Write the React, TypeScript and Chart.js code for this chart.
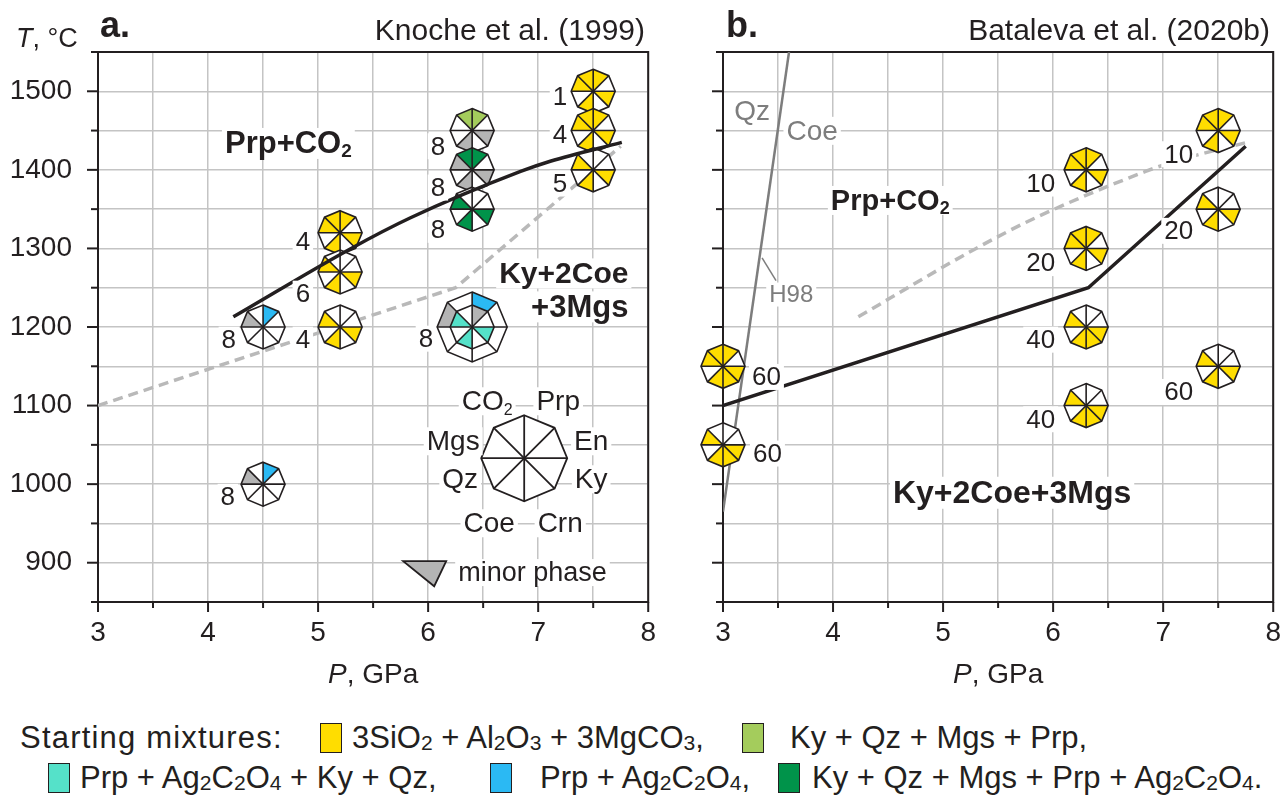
import React, { useEffect, useRef } from 'react';
import { Chart, registerables } from 'chart.js';

Chart.register(...registerables);

const FONT = '"Liberation Sans", Arial, Helvetica, sans-serif';
const INK = '#231f20';
const GRID = '#c4c4c4';
const YELLOW = '#FFDD00';
const LGREEN = '#A4CC5C';
const TEAL = '#55E1C9';
const BLUE = '#2BB9F3';
const DGREEN = '#00934A';
const MINOR = '#B4B4B4';

// ---------- axes ----------
const P_MIN = 3;
const P_MAX = 8;
const T_MIN = 850;
const T_MAX = 1550;
const P_LABELS = [3, 4, 5, 6, 7, 8];
const T_LABELS = [900, 1000, 1100, 1200, 1300, 1400, 1500];

// ---------- panel a : Knoche et al. (1999) ----------
const aSolidP = [4.23, 5.3, 5.84, 6.84, 7.11, 7.76];
const aSolidT = [1213, 1300, 1339, 1398, 1411, 1435];
const aDashP = [3.0, 6.25, 7.75];
const aDashT = [1100, 1250, 1430];

// sectors clockwise from 12 o'clock: Prp, En, Ky, Crn, Coe, Qz, Mgs, CO2
// y yellow, l light green, t turquoise, b blue, g dark green, m minor phase, - absent
const aExpP = [7.5, 7.5, 7.5, 6.4, 6.4, 6.4, 5.2, 5.2, 5.2, 4.5, 4.5, 6.4];
const aExpT = [1500, 1450, 1400, 1450, 1400, 1350, 1320, 1270, 1200, 1200, 1000, 1200];
const aExpHours = ['1', '4', '5', '8', '8', '8', '4', '6', '4', '8', '8', '8'];
const aExpPhases = ['y-y-y-yy', 'y-y-y-yy', '--y-y-y-', 'l-m-m--l', 'g-m-m-mg', '--g-g-g-', 'y-y-y-yy', '--y-y-y-', '--y-y-y-', 'b-----m-', 'b-----m-', 'b-----m-'];
const aExpInner = ['', '', '', '', '', '', '', '', '', '', '', 'm-t-t-t-'];

// ---------- panel b : Bataleva et al. (2020b) ----------
const bSolidP = [3.0, 6.32, 7.75];
const bSolidT = [1100, 1250, 1430];
const bDashP = [4.23, 5.3, 5.84, 6.84, 7.11, 7.76];
const bDashT = [1213, 1300, 1339, 1398, 1411, 1435];
const qzCoeP = [3.0, 3.6];
const qzCoeT = [965, 1550];
const bExpP = [7.5, 6.3, 7.5, 6.3, 6.3, 6.3, 7.5, 3.0, 3.0];
const bExpT = [1450, 1400, 1350, 1300, 1200, 1100, 1150, 1150, 1050];
const bExpHours = ['10', '10', '20', '20', '40', '40', '60', '60', '60'];
const bExpPhases = ['y-y-y-yy', 'y-y-y-yy', '--y-y-y-', 'y-y-y-yy', '--yyy-y-', '--yyy-y-', '--y-y-y-', 'y-yyy-yy', '--yyy-y-'];
const bExpInner = ['', '', '', '', '', '', '', '', ''];

// ---------- label layout (px offsets of run-duration labels from glyph centre) ----------
const aLabelDx = [-26, -26, -26, -27, -27, -27, -30, -30, -30, -27, -28, -39];
const aLabelDy = [14, 12, 22, 24, 26, 29, 17, 30, 21, 21, 21, 20];
const bLabelDx = [-25, -31, -25, -31, -31, -31, -25, 29, 30];
const bLabelDy = [32, 22, 30, 23, 21, 22, 34, 19, 17];

// ---------- key ----------
const keyPhases = ['Prp', 'En', 'Ky', 'Crn', 'Coe', 'Qz', 'Mgs', 'CO2'];

// ---------- legend ----------
const legendTitle = 'Starting mixtures:';
const legendColors = [YELLOW, LGREEN, TEAL, BLUE, DGREEN];
const legendTexts = ['3SiO2 + Al2O3 + 3MgCO3,', 'Ky + Qz + Mgs + Prp,', 'Prp + Ag2C2O4 + Ky + Qz,', 'Prp + Ag2C2O4,', 'Ky + Qz + Mgs + Prp + Ag2C2O4.'];
const legendSwatchX = [320, 742, 48, 490, 778];
const legendTextX = [352, 790, 80, 540, 812];
const legendRow = [0, 0, 1, 1, 1];
const legendRowMid = [738, 778];

const SECTOR_FILL: Record<string, string> = { y: YELLOW, l: LGREEN, t: TEAL, b: BLUE, g: DGREEN, m: MINOR, '-': '#ffffff' };

type Part = { t: string; size: number; bold?: boolean; italic?: boolean; dy?: number; color?: string };

function fontOf(p: Part) {
  return `${p.italic ? 'italic ' : ''}${p.bold ? 'bold ' : ''}${p.size}px ${FONT}`;
}

function drawRich(ctx: CanvasRenderingContext2D, parts: Part[], x: number, y: number, align: 'left' | 'center' | 'right', bg: boolean, color = INK) {
  ctx.save();
  ctx.textBaseline = 'alphabetic';
  ctx.textAlign = 'left';
  let w = 0;
  const ws = parts.map((p) => {
    ctx.font = fontOf(p);
    const m = ctx.measureText(p.t).width;
    w += m;
    return m;
  });
  const x0 = align === 'left' ? x : align === 'center' ? x - w / 2 : x - w;
  const maxSize = Math.max(...parts.map((p) => p.size));
  if (bg) {
    ctx.fillStyle = '#ffffff';
    ctx.fillRect(x0 - 3, y - maxSize * 0.82, w + 6, maxSize * 1.0);
  }
  let cx = x0;
  parts.forEach((p, i) => {
    ctx.font = fontOf(p);
    ctx.fillStyle = p.color || color;
    ctx.fillText(p.t, cx, y + (p.dy || 0));
    cx += ws[i];
  });
  ctx.restore();
}

function octPt(cx: number, cy: number, r: number, k: number): [number, number] {
  const a = -Math.PI / 2 + (k * Math.PI) / 4;
  return [cx + r * Math.cos(a), cy + r * Math.sin(a)];
}

function fillSectors(ctx: CanvasRenderingContext2D, cx: number, cy: number, r: number, code: string) {
  for (let k = 0; k < 8; k++) {
    const [x0, y0] = octPt(cx, cy, r, k);
    const [x1, y1] = octPt(cx, cy, r, k + 1);
    ctx.beginPath();
    ctx.moveTo(cx, cy);
    ctx.lineTo(x0, y0);
    ctx.lineTo(x1, y1);
    ctx.closePath();
    ctx.fillStyle = SECTOR_FILL[code[k]] || '#ffffff';
    ctx.fill();
  }
}

function strokeOct(ctx: CanvasRenderingContext2D, cx: number, cy: number, r: number, spokes: boolean) {
  ctx.beginPath();
  for (let k = 0; k < 8; k++) {
    const [x, y] = octPt(cx, cy, r, k);
    if (k === 0) ctx.moveTo(x, y);
    else ctx.lineTo(x, y);
  }
  ctx.closePath();
  ctx.stroke();
  if (spokes) {
    for (let k = 0; k < 4; k++) {
      const [x0, y0] = octPt(cx, cy, r, k);
      const [x1, y1] = octPt(cx, cy, r, k + 4);
      ctx.beginPath();
      ctx.moveTo(x0, y0);
      ctx.lineTo(x1, y1);
      ctx.stroke();
    }
  }
}

function drawGlyph(ctx: CanvasRenderingContext2D, cx: number, cy: number, r: number, code: string, inner?: string, rInner?: number, lw = 1.6) {
  ctx.save();
  ctx.strokeStyle = INK;
  ctx.lineWidth = lw;
  ctx.lineJoin = 'miter';
  fillSectors(ctx, cx, cy, r, code);
  if (inner && rInner) fillSectors(ctx, cx, cy, rInner, inner);
  strokeOct(ctx, cx, cy, r, true);
  if (inner && rInner) strokeOct(ctx, cx, cy, rInner, false);
  ctx.restore();
}

function line(ctx: CanvasRenderingContext2D, x0: number, y0: number, x1: number, y1: number) {
  ctx.beginPath();
  ctx.moveTo(x0, y0);
  ctx.lineTo(x1, y1);
  ctx.stroke();
}

type Fn = (v: number) => number;

type PanelCfg = {
  yLabels: boolean;
  yAxisW: number;
  padR: number;
  expP: number[];
  expT: number[];
  hours: string[];
  phases: string[];
  inner: string[];
  labelDx: number[];
  labelDy: number[];
  datasets: any[];
  decorate: (ctx: CanvasRenderingContext2D, X: Fn, Y: Fn, chart: any) => void;
};

const GLYPH_R = 22;
const BIG_R = 35;

function buildConfig(cfg: PanelCfg): any {
  const plugin = {
    id: 'phaseGlyphs',
    beforeDatasetsDraw(chart: any) {
      const ctx: CanvasRenderingContext2D = chart.ctx;
      const ca = chart.chartArea;
      const xs = chart.scales.x;
      const ys = chart.scales.y;
      ctx.save();
      ctx.strokeStyle = INK;
      ctx.lineWidth = 2;
      ctx.strokeRect(ca.left, ca.top, ca.right - ca.left, ca.bottom - ca.top);
      ys.ticks.forEach((t: any) => {
        const yy = ys.getPixelForValue(t.value);
        const len = t.value % 100 === 0 ? 11 : 7;
        line(ctx, ca.left - len, yy, ca.left, yy);
      });
      xs.ticks.forEach((t: any) => {
        const xx = xs.getPixelForValue(t.value);
        const len = Number.isInteger(t.value) ? 10 : 6;
        line(ctx, xx, ca.bottom, xx, ca.bottom + len);
      });
      ctx.restore();
    },
    beforeDatasetDraw(chart: any, args: any) {
      if (args.index !== 0) return;
      const ctx: CanvasRenderingContext2D = chart.ctx;
      const xs = chart.scales.x;
      const ys = chart.scales.y;
      cfg.expP.forEach((p, i) => {
        const cx = xs.getPixelForValue(p);
        const cy = ys.getPixelForValue(cfg.expT[i]);
        const inner = cfg.inner[i];
        if (inner) drawGlyph(ctx, cx, cy, BIG_R, cfg.phases[i], inner, GLYPH_R);
        else drawGlyph(ctx, cx, cy, GLYPH_R, cfg.phases[i]);
      });
    },
    afterDatasetsDraw(chart: any) {
      const ctx: CanvasRenderingContext2D = chart.ctx;
      const xs = chart.scales.x;
      const ys = chart.scales.y;
      const X = (v: number) => xs.getPixelForValue(v);
      const Y = (v: number) => ys.getPixelForValue(v);
      cfg.expP.forEach((p, i) => {
        const cx = X(p);
        const cy = Y(cfg.expT[i]);
        const dx = cfg.labelDx[i];
        drawRich(ctx, [{ t: cfg.hours[i], size: 26 }], cx + dx, cy + cfg.labelDy[i], dx < 0 ? 'right' : 'left', true);
      });
      cfg.decorate(ctx, X, Y, chart);
    },
  };

  const tickFont = { family: FONT, size: 28 };
  return {
    type: 'line',
    data: { datasets: cfg.datasets },
    options: {
      animation: false,
      responsive: false,
      devicePixelRatio: 1,
      layout: { padding: { left: 0, right: cfg.padR, top: 52, bottom: 0 } },
      plugins: { legend: { display: false }, tooltip: { enabled: false } },
      elements: { point: { radius: 0 } },
      scales: {
        x: {
          type: 'linear',
          min: P_MIN,
          max: P_MAX,
          border: { display: false },
          grid: { color: GRID, lineWidth: 1.5, drawTicks: false },
          ticks: {
            stepSize: 0.5,
            autoSkip: false,
            maxRotation: 0,
            padding: 14,
            color: INK,
            font: tickFont,
            callback: (v: number) => (P_LABELS.includes(v) ? String(v) : ''),
          },
          afterFit: (s: any) => {
            s.height = 98;
          },
        },
        y: {
          type: 'linear',
          min: T_MIN,
          max: T_MAX,
          border: { display: false },
          grid: { color: GRID, lineWidth: 1.5, drawTicks: false },
          ticks: {
            stepSize: 50,
            autoSkip: false,
            padding: 26,
            color: INK,
            font: tickFont,
            callback: (v: number) => (cfg.yLabels && T_LABELS.includes(v) ? String(v) : ''),
          },
          afterFit: (s: any) => {
            s.width = cfg.yAxisW;
          },
        },
      },
    },
    plugins: [plugin],
  };
}

const pts = (P: number[], T: number[]) => P.map((p, i) => ({ x: p, y: T[i] }));

const solidStyle = { borderColor: INK, borderWidth: 3.5, pointRadius: 0, fill: false };
const dashStyle = { borderColor: '#b9b9b9', borderWidth: 3.5, borderDash: [10, 6], pointRadius: 0, fill: false };

const panelA: PanelCfg = {
  yLabels: true,
  yAxisW: 98,
  padR: 0,
  expP: aExpP,
  expT: aExpT,
  hours: aExpHours,
  phases: aExpPhases,
  inner: aExpInner,
  labelDx: aLabelDx,
  labelDy: aLabelDy,
  datasets: [
    { ...solidStyle, data: pts(aSolidP, aSolidT), cubicInterpolationMode: 'monotone' },
    { ...dashStyle, data: pts(aDashP, aDashT) },
  ],
  decorate(ctx, X, Y, chart) {
    const ca = chart.chartArea;
    drawRich(ctx, [{ t: 'T', size: 27, italic: true }, { t: ', °C', size: 27 }], 16, 47, 'left', false);
    drawRich(ctx, [{ t: 'a.', size: 36, bold: true }], 100, 37, 'left', false);
    drawRich(ctx, [{ t: 'Knoche et al. (1999)', size: 30 }], 645, 40, 'right', false);
    drawRich(ctx, [{ t: 'P', size: 28, italic: true }, { t: ', GPa', size: 28 }], (ca.left + ca.right) / 2, 683, 'center', false);
    // field labels
    drawRich(ctx, [{ t: 'Prp+CO', size: 31, bold: true }, { t: '2', size: 19, bold: true, dy: 4 }], X(4.73), Y(1435) + 11, 'center', true);
    drawRich(ctx, [{ t: 'Ky+2Coe', size: 30, bold: true }], X(7.82), Y(1270) + 11, 'right', true);
    drawRich(ctx, [{ t: '+3Mgs', size: 31, bold: true }], X(7.82), Y(1227) + 11, 'right', true);
    // key glyph
    const kx = X(6.873);
    const ky = Y(1033);
    drawGlyph(ctx, kx, ky, 43, '--------', undefined, undefined, 1.8);
    const keyPos: [number, number][] = [
      [34, -58], [67, -18], [67, 20], [36, 64], [-35, 64], [-64, 20], [-71, -18], [-37, -58],
    ];
    keyPhases.forEach((ph, k) => {
      const [dx, dy] = keyPos[k];
      const parts: Part[] = ph === 'CO2' ? [{ t: 'CO', size: 28 }, { t: '2', size: 16, dy: 5 }] : [{ t: ph, size: 28 }];
      drawRich(ctx, parts, kx + dx, ky + dy + 10, 'center', true);
    });
    // minor phase key
    ctx.save();
    ctx.fillStyle = MINOR;
    ctx.strokeStyle = INK;
    ctx.lineWidth = 1.8;
    ctx.beginPath();
    ctx.moveTo(kx - 121, ky + 103);
    ctx.lineTo(kx - 78, ky + 103);
    ctx.lineTo(kx - 90, ky + 128);
    ctx.closePath();
    ctx.fill();
    ctx.stroke();
    ctx.restore();
    drawRich(ctx, [{ t: 'minor phase', size: 27 }], kx - 66, ky + 123, 'left', true);
  },
};

const panelB: PanelCfg = {
  yLabels: false,
  yAxisW: 63,
  padR: 0,
  expP: bExpP,
  expT: bExpT,
  hours: bExpHours,
  phases: bExpPhases,
  inner: bExpInner,
  labelDx: bLabelDx,
  labelDy: bLabelDy,
  datasets: [
    { ...solidStyle, data: pts(bSolidP, bSolidT) },
    { ...dashStyle, data: pts(bDashP, bDashT), cubicInterpolationMode: 'monotone' },
    { borderColor: '#7d7d7d', borderWidth: 2.5, pointRadius: 0, fill: false, data: pts(qzCoeP, qzCoeT) },
  ],
  decorate(ctx, X, Y, chart) {
    const ca = chart.chartArea;
    drawRich(ctx, [{ t: 'b.', size: 36, bold: true }], 66, 37, 'left', false);
    drawRich(ctx, [{ t: 'Bataleva et al. (2020b)', size: 30 }], 610, 40, 'right', false);
    drawRich(ctx, [{ t: 'P', size: 28, italic: true }, { t: ', GPa', size: 28 }], (ca.left + ca.right) / 2, 683, 'center', false);
    drawRich(ctx, [{ t: 'Qz', size: 28, color: '#7d7d7d' }], X(3.264), Y(1476) + 10, 'center', false);
    drawRich(ctx, [{ t: 'Coe', size: 28, color: '#7d7d7d' }], X(3.81), Y(1451) + 10, 'center', true);
    ctx.save();
    ctx.strokeStyle = '#7d7d7d';
    ctx.lineWidth = 1.5;
    line(ctx, X(3.355), Y(1288), X(3.482), Y(1259));
    ctx.restore();
    drawRich(ctx, [{ t: 'H98', size: 24, color: '#7d7d7d' }], X(3.62), Y(1243) + 9, 'center', true);
    drawRich(ctx, [{ t: 'Prp+CO', size: 29, bold: true }, { t: '2', size: 18, bold: true, dy: 4 }], X(4.52), Y(1362) + 10, 'center', true);
    drawRich(ctx, [{ t: 'Ky+2Coe+3Mgs', size: 32, bold: true }], X(5.627), Y(990) + 11, 'center', true);
  },
};

function Panel({ cfg, left, width, height }: { cfg: PanelCfg; left: number; width: number; height: number }) {
  const ref = useRef<HTMLCanvasElement>(null);
  useEffect(() => {
    const chart = new Chart(ref.current as HTMLCanvasElement, buildConfig(cfg));
    return () => chart.destroy();
  }, [cfg]);
  return <canvas ref={ref} width={width} height={height} style={{ position: 'absolute', left, top: 0, width, height }} />;
}

function Chem({ s }: { s: string }) {
  const nodes: React.ReactNode[] = [];
  let buf = '';
  for (let i = 0; i < s.length; i++) {
    const c = s[i];
    if (/\d/.test(c) && i > 0 && /[A-Za-z]/.test(s[i - 1])) {
      if (buf) {
        nodes.push(<span key={`t${i}`}>{buf}</span>);
        buf = '';
      }
      nodes.push(
        <span key={`s${i}`} style={{ fontSize: '0.68em', position: 'relative', top: '0.1em' }}>
          {c}
        </span>
      );
    } else buf += c;
  }
  if (buf) nodes.push(<span key="end">{buf}</span>);
  return <>{nodes}</>;
}

export default function App() {
  useEffect(() => {
    document.body.style.margin = '0';
  }, []);
  const textStyle = (mid: number, left: number): React.CSSProperties => ({
    position: 'absolute',
    left,
    top: mid - 18,
    height: 36,
    lineHeight: '36px',
    fontSize: 30,
    color: INK,
    whiteSpace: 'nowrap',
  });
  return (
    <div style={{ position: 'relative', width: 1283, height: 796, background: '#fff', fontFamily: FONT, overflow: 'hidden' }}>
      <Panel cfg={panelA} left={0} width={670} height={700} />
      <Panel cfg={panelB} left={660} width={635} height={700} />
      <div style={{ ...textStyle(legendRowMid[0], 20), fontSize: 31, letterSpacing: '1.2px' }}>{legendTitle}</div>
      {legendColors.map((c, i) => (
        <React.Fragment key={i}>
          <div
            style={{
              position: 'absolute',
              left: legendSwatchX[i],
              top: legendRowMid[legendRow[i]] - 15,
              width: 20,
              height: 28,
              background: c,
              border: `1.5px solid ${INK}`,
            }}
          />
          <div style={{ ...textStyle(legendRowMid[legendRow[i]], legendTextX[i]), fontSize: 31 }}>
            <Chem s={legendTexts[i]} />
          </div>
        </React.Fragment>
      ))}
    </div>
  );
}
